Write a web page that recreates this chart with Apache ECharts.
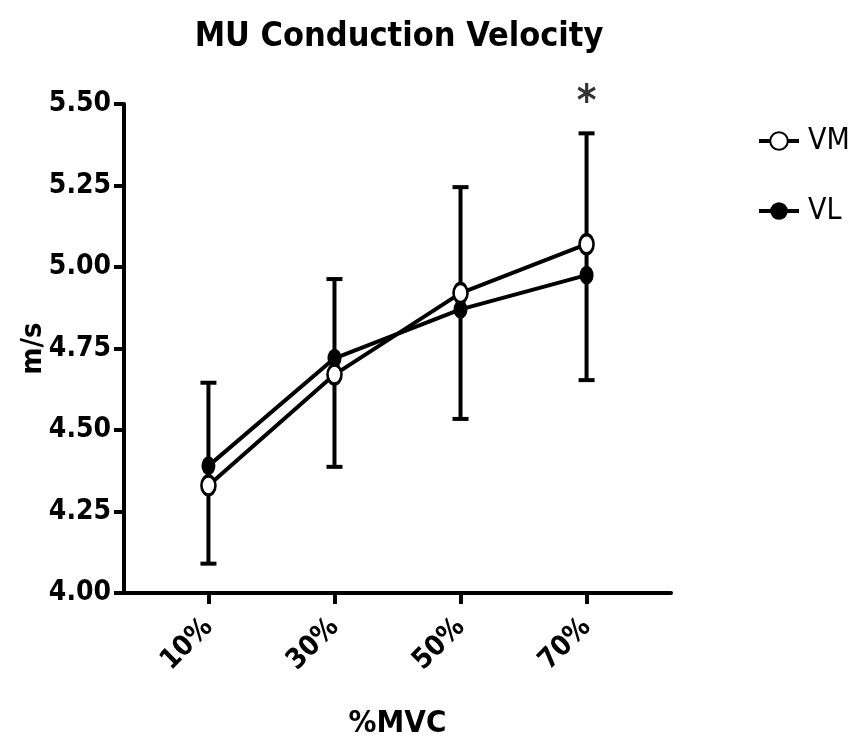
<!DOCTYPE html>
<html>
<head>
<meta charset="utf-8" />
<title>MU Conduction Velocity</title>
<script src="https://cdn.jsdelivr.net/npm/echarts@6/dist/echarts.min.js"></script>
<style>
html,
body {
	margin: 0;
	padding: 0;
	background: #ffffff;
}
#chart {
	width: 864px;
	height: 752px;
}
</style>
</head>
<body>
<div id="chart"></div>
<script>
// %MVC levels (x positions)
const categories = [10, 30, 50, 70];
const yTicks = [4.0, 4.25, 4.5, 4.75, 5.0, 5.25, 5.5];

// m/s values
const vmValues = [4.33, 4.67, 4.92, 5.07];
const vlValues = [4.39, 4.72, 4.87, 4.975];
const errHigh = [4.645, 4.963, 5.245, 5.41];
const errLow = [4.09, 4.387, 4.534, 4.653];

// significance marker
const starAt = [70];
const starY = [5.5];

const font = "'Liberation Sans Narrow', 'DejaVu Sans Condensed', 'Arial Narrow', sans-serif";

const errorData = categories.map((c, i) => [c, errLow[i], errHigh[i]]);

const option = {
	animation: false,
	title: {
		text: "MU Conduction Velocity",
		left: 394,
		textAlign: "center",
		top: 15,
		textStyle: {
			fontFamily: font,
			fontSize: 34,
			fontWeight: "bold",
			color: "#000",
		},
	},
	legend: {
		orient: "vertical",
		left: 752,
		top: 121,
		itemWidth: 40,
		itemHeight: 22,
		itemGap: 40,
		data: ["VM", "VL"],
		lineStyle: { width: 4 },
		textStyle: {
			fontFamily: font,
			fontSize: 30,
			color: "#000",
			padding: [0, 0, 0, 4],
		},
	},
	grid: {
		left: 124,
		right: 193,
		top: 104,
		bottom: 159,
		outerBoundsMode: "none",
	},
	xAxis: {
		type: "value",
		min: -3.4,
		max: 83.4,
		name: "%MVC",
		nameLocation: "middle",
		nameGap: 115,
		nameMoveOverlap: false,
		nameTextStyle: {
			fontFamily: font,
			fontSize: 31,
			fontWeight: "bold",
			color: "#000",
		},
		splitLine: { show: false },
		axisLine: { onZero: false, lineStyle: { color: "#000", width: 4 } },
		axisTick: {
			customValues: categories,
			length: 11,
			lineStyle: { color: "#000", width: 4 },
		},
		axisLabel: {
			customValues: categories,
			rotate: 45,
			margin: 30,
			formatter: v => v + "%",
			fontFamily: font,
			fontSize: 28,
			fontWeight: "bold",
			color: "#000",
		},
	},
	yAxis: {
		type: "value",
		min: 4,
		max: 5.5,
		interval: 0.25,
		name: "m/s",
		nameLocation: "middle",
		nameGap: 76,
		nameRotate: 90,
		nameMoveOverlap: false,
		nameTextStyle: {
			fontFamily: font,
			fontSize: 29,
			fontWeight: "bold",
			color: "#000",
		},
		splitLine: { show: false },
		axisLine: { show: true, onZero: false, lineStyle: { color: "#000", width: 4 } },
		axisTick: {
			show: true,
			length: 10,
			lineStyle: { color: "#000", width: 4 },
		},
		axisLabel: {
			customValues: yTicks,
			margin: 13,
			formatter: v => v.toFixed(2),
			fontFamily: font,
			fontSize: 28,
			fontWeight: "bold",
			color: "#000",
		},
	},
	series: [
		{
			type: "custom",
			name: "error",
			z: 1,
			data: errorData,
			renderItem: (params, api) => {
				const x = api.value(0);
				const lo = api.coord([x, api.value(1)]);
				const hi = api.coord([x, api.value(2)]);
				const cap = 8;
				const style = { stroke: "#000", lineWidth: 4 };
				return {
					type: "group",
					children: [
						{ type: "line", shape: { x1: lo[0], y1: lo[1], x2: hi[0], y2: hi[1] }, style },
						{ type: "line", shape: { x1: hi[0] - cap, y1: hi[1], x2: hi[0] + cap, y2: hi[1] }, style },
						{ type: "line", shape: { x1: lo[0] - cap, y1: lo[1], x2: lo[0] + cap, y2: lo[1] }, style },
					],
				};
			},
		},
		{
			type: "line",
			name: "VL",
			z: 3,
			data: categories.map((c, i) => [c, vlValues[i]]),
			symbol: "circle",
			symbolSize: [14, 19],
			itemStyle: { color: "#000" },
			lineStyle: { color: "#000", width: 4 },
		},
		{
			type: "line",
			name: "VM",
			z: 4,
			data: categories.map((c, i) => [c, vmValues[i]]),
			symbol: "circle",
			symbolSize: [14, 19],
			itemStyle: { color: "#fff", borderColor: "#000", borderWidth: 3 },
			lineStyle: { color: "#000", width: 4 },
		},
		{
			type: "scatter",
			name: "sig",
			clip: false,
			symbolSize: 0,
			itemStyle: { color: "#000" },
			data: starAt.map((c, i) => [c, starY[i]]),
			label: {
				show: true,
				position: "inside",
				formatter: "*",
				fontFamily: font,
				fontSize: 42,
				fontWeight: "bold",
				color: "#000",
				textBorderWidth: 0,
			},
		},
	],
};

const myChart = echarts.init(document.getElementById("chart"));
myChart.setOption(option);
</script>
</body>
</html>
